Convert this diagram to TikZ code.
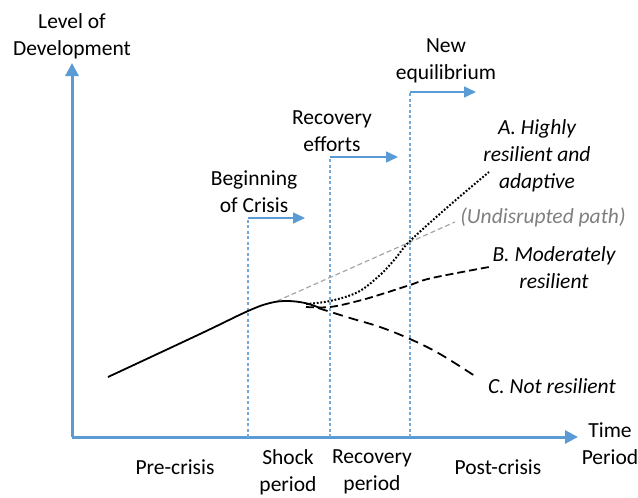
\documentclass[tikz,border=0pt]{standalone}
\usepackage{fontspec}
\setmainfont{Carlito}
\usetikzlibrary{arrows.meta}
\definecolor{axisblue}{HTML}{5B9BD5}
\definecolor{pathgray}{HTML}{A6A6A6}
\definecolor{textgray}{HTML}{7F7F7F}
\begin{document}
\begin{tikzpicture}[x=1pt,y=-1pt,
  lbl/.style={font=\fontsize{21.5}{27}\selectfont, align=center, inner sep=0pt, text=black},
  ilbl/.style={lbl, font=\fontsize{21.5}{27}\selectfont\itshape},
  axisline/.style={draw=axisblue, line width=3pt, -{Triangle[length=13pt,width=13pt]}},
  marker/.style={draw=axisblue!85, line width=1.2pt, dash pattern=on 3pt off 2.5pt},
  markarrow/.style={draw=axisblue, line width=1.5pt, -{Triangle[length=12pt,width=11pt]}},
  base/.style={draw=black, line width=1.8pt},
  undisrupted/.style={draw=pathgray, line width=1.2pt, dash pattern=on 5pt off 3pt},
  pathA/.style={draw=black, line width=2pt, dash pattern=on 1.8pt off 1.8pt},
  pathB/.style={draw=black, line width=1.8pt, dash pattern=on 8pt off 4pt},
  pathC/.style={draw=black, line width=1.8pt, dash pattern=on 10pt off 6pt},
]
\useasboundingbox (0,0) rectangle (638,498);

% axes
\coordinate (origin) at (72,437);
\coordinate (ytip) at (72,63);
\coordinate (xtip) at (578,437);
\draw[axisline] (origin) -- (ytip);
\draw[axisline] (origin) -- (xtip);
\node[lbl] (ylabel) at (72,36) {Level of\\Development};
\node[lbl] (xlabel) at (610,444) {Time\\Period};

% phase markers
\coordinate (m1base) at (248,437);
\coordinate (m1top) at (248,218);
\coordinate (m1tip) at (305,218);
\coordinate (m2base) at (330,437);
\coordinate (m2top) at (330,157);
\coordinate (m2tip) at (398,157);
\coordinate (m3base) at (410,437);
\coordinate (m3top) at (410,92);
\coordinate (m3tip) at (476,92);
\draw[marker] (m1base) -- (m1top);
\draw[marker] (m2base) -- (m2top);
\draw[marker] (m3base) -- (m3top);
\draw[markarrow] (m1top) -- (m1tip);
\draw[markarrow] (m2top) -- (m2tip);
\draw[markarrow] (m3top) -- (m3tip);
\node[lbl] (crisis) at (254,192) {Beginning\\of Crisis};
\node[lbl] (efforts) at (332,131) {Recovery\\efforts};
\node[lbl] (equil) at (446,61) {New\\equilibrium};

% period labels
\node[lbl] (pre) at (175,467) {Pre-crisis};
\node[lbl] (shock) at (288,472) {Shock\\period};
\node[lbl] (recov) at (372,472) {Recovery\\period};
\node[lbl] (post) at (498,467) {Post-crisis};

% development paths
\draw[undisrupted] (277,301) -- (455,222);
\draw[base] plot[smooth, tension=0.6] coordinates {(108,377) (200,334) (248,311) (270,303) (287,301) (305,303) (320,308)};
\draw[pathA] plot[smooth, tension=0.6] coordinates {(306,304) (330,301) (358,292) (380,275) (395,259) (410,241) (450,205) (489,172)};
\draw[pathB] plot[smooth, tension=0.6] coordinates {(306,307) (330,307) (358,301) (382,294) (410,285) (432,278) (489,267)};
\draw[pathC] plot[smooth, tension=0.6] coordinates {(318,308) (350,318) (380,327) (410,339) (440,354) (478,378)};

\node[ilbl] (labA) at (537,156) {A. Highly\\resilient and\\adaptive};
\node[ilbl, text=textgray] (labU) at (543,217) {(Undisrupted path)};
\node[ilbl] (labB) at (554,268) {B. Moderately\\resilient};
\node[ilbl] (labC) at (552,386) {C. Not resilient};
\end{tikzpicture}
\end{document}
